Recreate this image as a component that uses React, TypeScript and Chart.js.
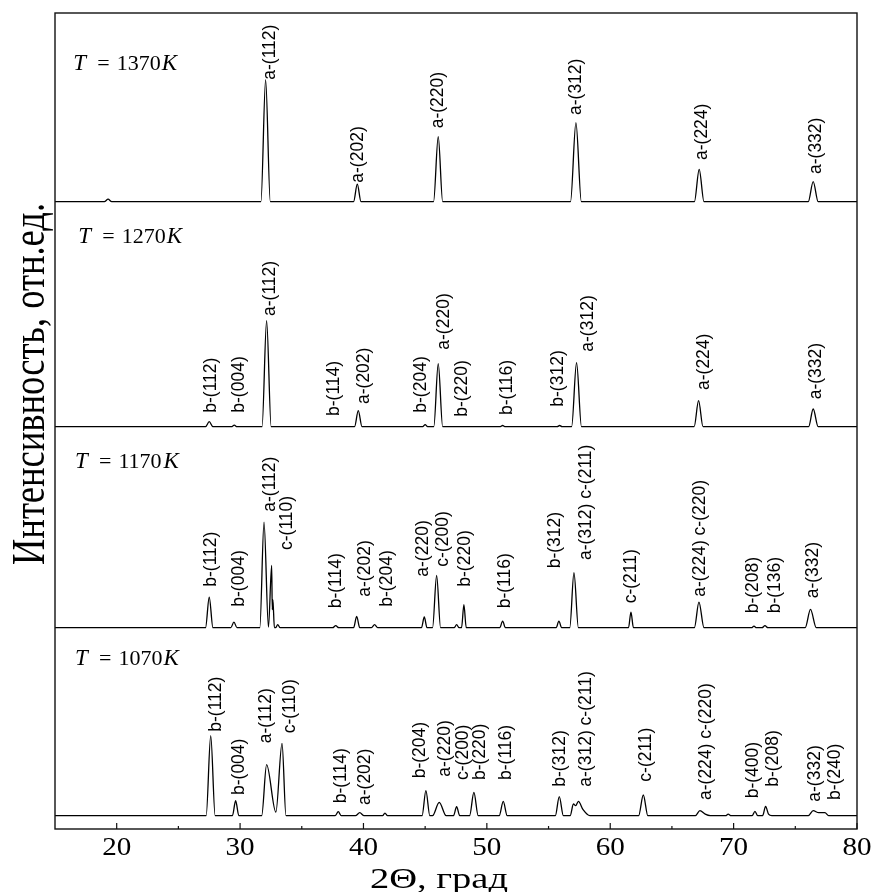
import React, { useEffect, useRef } from 'react';
import { Chart, registerables } from 'chart.js';

Chart.register(...registerables);

type Pt = [number, number];
type Lbl = [string, number, number];

// ---------- axis ticks ----------
const xMajorTicks = [20, 30, 40, 50, 60, 70, 80];
const xMinorTicks = [25, 35, 45, 55, 65, 75];

const xTitle = '2Θ, град';
const yTitle = 'Интенсивность, отн.ед.';

// ---------- temperatures ----------
const temperatures = ['1370', '1270', '1170', '1070'];
// label anchor [2θ, intensity] in each panel
const tempLabelPos: Pt[] = [
  [16.48, 131.7],
  [16.89, 183.4],
  [16.62, 159.4],
  [16.62, 150.7],
];

// ---------- traces: [2θ, intensity] ----------
const trace1370: Pt[] = [
  [15, 0], [19.0, 0], [19.3, 2.5], [19.6, 0],
  [31.69, 0], [32.07, 122], [32.45, 0],
  [39.2, 0], [39.5, 17.5], [39.8, 0],
  [45.68, 0], [46.06, 65], [46.42, 0],
  [56.78, 0], [57.22, 79], [57.66, 0],
  [66.82, 0], [67.21, 32.4], [67.6, 0],
  [76.05, 0], [76.45, 20], [76.85, 0],
  [80, 0],
];

const trace1270: Pt[] = [
  [15, 0],
  [27.2, 0], [27.5, 5], [27.8, 0],
  [29.3, 0], [29.53, 1.5], [29.75, 0],
  [31.78, 0], [32.15, 106], [32.52, 0],
  [39.28, 0], [39.58, 16], [39.88, 0],
  [44.8, 0], [45.0, 2], [45.2, 0],
  [45.7, 0], [46.06, 63], [46.42, 0],
  [51.1, 0], [51.28, 1.2], [51.45, 0],
  [55.7, 0], [55.9, 1.2], [56.1, 0],
  [56.87, 0], [57.27, 64], [57.67, 0],
  [66.8, 0], [67.16, 26], [67.52, 0],
  [76.08, 0], [76.45, 17.7], [76.85, 0],
  [80, 0],
];

const trace1170: Pt[] = [
  [15, 0],
  [27.2, 0], [27.5, 30.6], [27.8, 0],
  [29.25, 0], [29.5, 5.6], [29.75, 0],
  [31.6, 0], [31.94, 105.6], [32.3, 0.5],
  [32.56, 62.3], [32.61, 18], [32.66, 28], [32.78, 0],
  [32.88, 0], [33.05, 3], [33.25, 0],
  [37.5, 0], [37.75, 2], [38.0, 0],
  [39.2, 0], [39.45, 11.3], [39.7, 0],
  [40.65, 0], [40.9, 3], [41.15, 0],
  [44.7, 0], [44.93, 10.7], [45.15, 0],
  [45.6, 0], [45.93, 52.3], [46.25, 0],
  [47.35, 0], [47.55, 3], [47.75, 0],
  [47.95, 0], [48.14, 23], [48.33, 0],
  [51.05, 0], [51.28, 6.6], [51.5, 0],
  [55.62, 0], [55.84, 6.6], [56.06, 0],
  [56.72, 0], [57.06, 55], [57.42, 0],
  [61.48, 0], [61.68, 15.6], [61.88, 0],
  [66.82, 0], [67.19, 25.6], [67.6, 0],
  [71.45, 0], [71.65, 1.5], [71.85, 0],
  [72.3, 0], [72.54, 2], [72.78, 0],
  [75.8, 0], [76.23, 18.3], [76.7, 0],
  [80, 0],
];

const trace1070: Pt[] = [
  [15, 0],
  [27.25, 0], [27.62, 80], [27.98, 0],
  [29.38, 0], [29.64, 15], [29.9, 0],
  [31.75, 0], [32.15, 51], [32.9, 3.5], [33.4, 72.3], [33.72, 0],
  [37.7, 0], [37.96, 4], [38.2, 0],
  [39.35, 0], [39.7, 3], [40.05, 0],
  [41.55, 0], [41.74, 2.5], [41.95, 0],
  [44.75, 0], [45.06, 25], [45.38, 0],
  [45.6, 0], [46.14, 13.3], [46.7, 0],
  [47.3, 0], [47.55, 9], [47.8, 0],
  [48.6, 0], [48.95, 23.3], [49.3, 0],
  [51.0, 0], [51.33, 14.3], [51.65, 0],
  [55.55, 0], [55.87, 19], [56.2, 0],
  [56.75, 0], [57.02, 11.7], [57.2, 10], [57.42, 14.3], [57.8, 6], [58.35, 0],
  [62.3, 0], [62.68, 20.7], [63.05, 0],
  [66.9, 0], [67.27, 5], [67.7, 1.5], [68.1, 0],
  [69.35, 0], [69.56, 1.5], [69.8, 0],
  [71.5, 0], [71.73, 4.3], [71.95, 0],
  [72.35, 0], [72.59, 9.3], [72.83, 1.5], [73.1, 0],
  [76.05, 0], [76.45, 5], [76.9, 3], [77.4, 3], [77.7, 0],
  [80, 0],
];

// ---------- peak labels: [text, 2θ, intensity at label start] ----------
const labels1370: Lbl[] = [
  ['a-(112)', 32.46, 122],
  ['a-(202)', 39.6, 19],
  ['a-(220)', 46.04, 73.4],
  ['a-(312)', 57.28, 86.7],
  ['a-(224)', 67.43, 41.7],
  ['a-(332)', 76.67, 27.7],
];

const labels1270: Lbl[] = [
  ['b-(112)', 27.64, 14],
  ['b-(004)', 29.91, 14],
  ['a-(112)', 32.42, 110.7],
  ['b-(114)', 37.61, 10.7],
  ['a-(202)', 40.04, 22.7],
  ['b-(204)', 44.66, 14],
  ['a-(220)', 46.52, 77],
  ['b-(220)', 48.02, 10],
  ['b-(116)', 51.65, 11.7],
  ['b-(312)', 55.79, 20],
  ['a-(312)', 58.22, 75],
  ['a-(224)', 67.6, 36.7],
  ['a-(332)', 76.67, 27.4],
];

const labels1170: Lbl[] = [
  ['b-(112)', 27.62, 41],
  ['b-(004)', 29.91, 21],
  ['a-(112)', 32.42, 116],
  ['c-(110)', 33.78, 77.7],
  ['b-(114)', 37.75, 19.4],
  ['a-(202)', 40.12, 31],
  ['b-(204)', 41.93, 21],
  ['a-(220)', 44.82, 51],
  ['c-(200)', 46.44, 61],
  ['b-(220)', 48.22, 41],
  ['b-(116)', 51.47, 19.4],
  ['b-(312)', 55.52, 59.4],
  ['a-(312) c-(211)', 58.03, 67.7],
  ['c-(211)', 61.73, 24.4],
  ['a-(224) c-(220)', 67.27, 31],
  ['b-(208)', 71.59, 14.4],
  ['b-(136)', 73.35, 14.4],
  ['a-(332)', 76.45, 29.4],
];

const labels1070: Lbl[] = [
  ['b-(112)', 28.1, 84],
  ['b-(004)', 29.94, 20.7],
  ['a-(112)', 32.1, 72.4],
  ['c-(110)', 34.04, 82.4],
  ['b-(114)', 38.23, 12.4],
  ['a-(202)', 40.12, 10.7],
  ['b-(204)', 44.58, 37.4],
  ['a-(220)', 46.6, 39],
  ['c-(200)', 48.09, 35.7],
  ['b-(220)', 49.48, 35.7],
  ['b-(116)', 51.6, 35.7],
  ['b-(312)', 55.92, 29],
  ['a-(312) c-(211)', 58.08, 29],
  ['c-(211)', 62.95, 34],
  ['a-(224) c-(220)', 67.81, 15.7],
  ['b-(400)', 71.59, 17.4],
  ['b-(208)', 73.21, 29],
  ['a-(332)', 76.59, 14],
  ['b-(240)', 78.21, 15.7],
];

const traces = [trace1370, trace1270, trace1170, trace1070];
const peakLabels = [labels1370, labels1270, labels1170, labels1070];

// panel layout (stacked y axes, top to bottom)
const panelIds = ['y1370', 'y1270', 'y1170', 'y1070'];
const panelWeights = [202, 225, 201, 188];
const panelMin = -13.3;

const SERIF = '"Liberation Serif", "Times New Roman", Times, serif';
const SANS = '"Liberation Sans", Arial, Helvetica, sans-serif';

export default function App() {
  const ref = useRef<HTMLCanvasElement | null>(null);

  useEffect(() => {
    const canvas = ref.current;
    if (!canvas) return;

    const overlay = {
      id: 'overlay',
      afterDatasetsDraw(chart: any) {
        const { ctx, chartArea: a, scales } = chart;
        const xs = scales.x;
        ctx.save();
        // frame
        ctx.strokeStyle = '#111';
        ctx.lineWidth = 1.4;
        ctx.strokeRect(a.left, a.top, a.right - a.left, a.bottom - a.top);
        // ticks (inward)
        ctx.lineWidth = 1.2;
        ctx.beginPath();
        for (const v of xMajorTicks) {
          const px = xs.getPixelForValue(v);
          ctx.moveTo(px, a.bottom);
          ctx.lineTo(px, a.bottom - 6);
        }
        for (const v of xMinorTicks) {
          const px = xs.getPixelForValue(v);
          ctx.moveTo(px, a.bottom);
          ctx.lineTo(px, a.bottom - 3);
        }
        ctx.stroke();

        ctx.fillStyle = '#000';
        // x tick labels
        ctx.font = '26px ' + SERIF;
        ctx.textAlign = 'center';
        ctx.textBaseline = 'alphabetic';
        for (const v of xMajorTicks) {
          const px = xs.getPixelForValue(v);
          ctx.save();
          ctx.translate(px, a.bottom + 26);
          ctx.scale(1.12, 1);
          ctx.fillText(String(v), 0, 0);
          ctx.restore();
        }
        // x title
        ctx.font = '30px ' + SERIF;
        {
          const w = ctx.measureText(xTitle).width;
          ctx.save();
          ctx.translate(439, a.bottom + 59);
          ctx.scale(138 / w, 1);
          ctx.fillText(xTitle, 0, 0);
          ctx.restore();
        }
        // y title
        ctx.font = '47px ' + SERIF;
        {
          const w = ctx.measureText(yTitle).width;
          ctx.save();
          ctx.translate(44, 384);
          ctx.rotate(-Math.PI / 2);
          ctx.scale(362 / w, 1);
          ctx.textAlign = 'center';
          ctx.fillText(yTitle, 0, 0);
          ctx.restore();
        }

        // panels
        panelIds.forEach((id, i) => {
          const ys = scales[id];
          const [tx, ty] = tempLabelPos[i];
          const x0 = xs.getPixelForValue(tx);
          const y0 = ys.getPixelForValue(ty);
          ctx.textAlign = 'left';
          ctx.textBaseline = 'alphabetic';
          ctx.font = 'italic 23px ' + SERIF;
          ctx.fillText('T', x0, y0);
          ctx.font = '22px ' + SERIF;
          ctx.fillText('=', x0 + 24, y0);
          ctx.fillText(temperatures[i], x0 + 43.4, y0);
          ctx.font = 'italic 23px ' + SERIF;
          ctx.fillText('K', x0 + 88.4, y0);

          ctx.font = '17.5px ' + SANS;
          ctx.textBaseline = 'middle';
          for (const [text, lx, ly] of peakLabels[i]) {
            const px = xs.getPixelForValue(lx);
            const py = ys.getPixelForValue(ly);
            ctx.save();
            ctx.translate(px, py);
            ctx.rotate(-Math.PI / 2);
            ctx.fillText(text, 0, 0);
            ctx.restore();
          }
        });
        ctx.restore();
      },
    };

    const scales: any = {
      x: { type: 'linear', min: 15, max: 80, display: false },
    };
    // defined bottom-to-top: later left axes are placed higher in the stack
    for (let i = panelIds.length - 1; i >= 0; i--) {
      scales[panelIds[i]] = {
        type: 'linear',
        position: 'left',
        stack: 'panels',
        stackWeight: panelWeights[i],
        min: panelMin,
        max: panelWeights[i] + panelMin,
        display: false,
      };
    }

    const chart = new Chart(canvas, {
      type: 'line',
      data: {
        datasets: traces.map((tr, i) => ({
          label: temperatures[i] + 'K',
          data: tr.map(([x, y]) => ({ x, y })),
          yAxisID: panelIds[i],
          borderColor: '#000',
          borderWidth: 1.3,
          pointRadius: 0,
          fill: false,
          cubicInterpolationMode: 'monotone' as const,
        })),
      },
      options: {
        animation: false,
        responsive: false,
        events: [],
        layout: { padding: { left: 55, top: 13, right: 18, bottom: 63 } },
        plugins: { legend: { display: false }, tooltip: { enabled: false } },
        scales,
      },
      plugins: [overlay],
    });

    let alive = true;
    const fonts = [
      '26px "Liberation Serif"',
      'italic 22px "Liberation Serif"',
      '17px "Liberation Sans"',
    ];
    if ((document as any).fonts && (document as any).fonts.load) {
      Promise.all(fonts.map((f) => (document as any).fonts.load(f)))
        .then(() => { if (alive) chart.draw(); })
        .catch(() => {});
    }
    return () => { alive = false; chart.destroy(); };
  }, []);

  return (
    <div style={{ position: 'absolute', left: 0, top: 0, width: 875, height: 892, background: '#fff' }}>
      <canvas ref={ref} width={875} height={892} />
    </div>
  );
}
